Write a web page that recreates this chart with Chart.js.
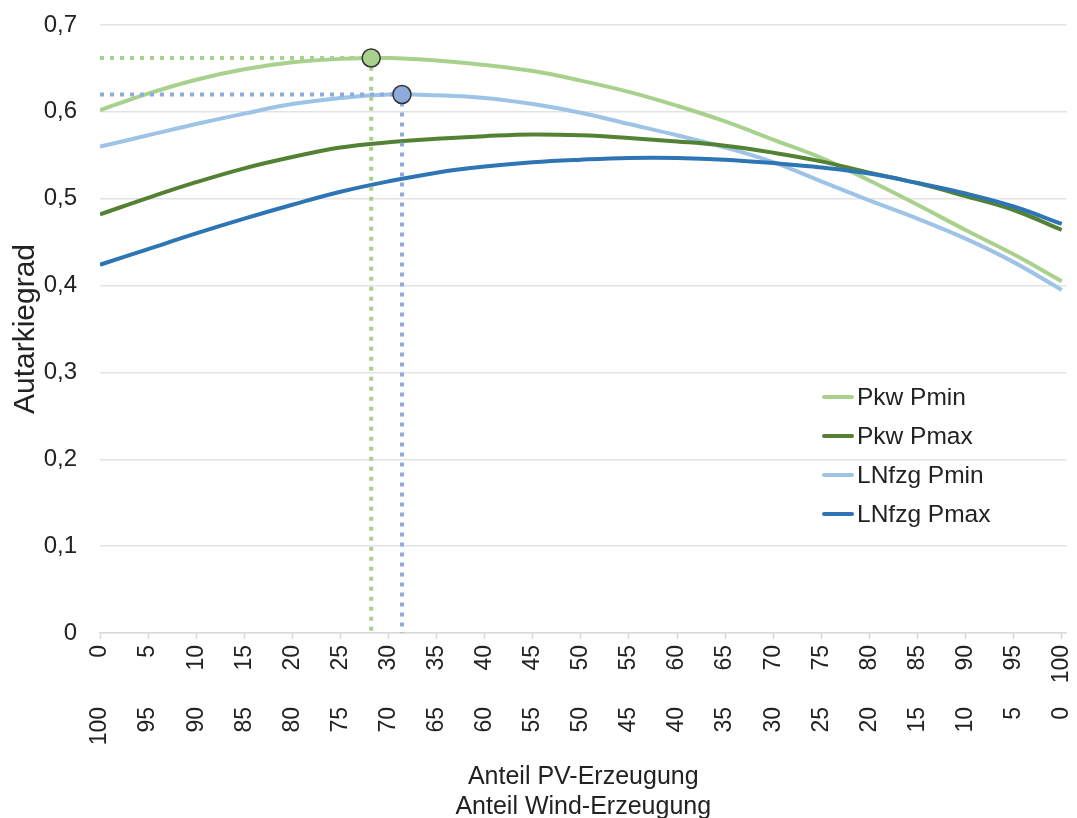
<!DOCTYPE html>
<html lang="de">
<head>
<meta charset="utf-8">
<title>Autarkiegrad</title>
<script src="https://cdn.jsdelivr.net/npm/chart.js@4.4.1/dist/chart.umd.min.js"></script>
<style>
  html, body { margin: 0; padding: 0; background: #fff; }
  #wrap { position: relative; width: 1077px; height: 818px; }
  #legend {
    position: absolute; left: 822px; top: 377px;
    font-family: 'Liberation Sans', Arial, sans-serif; font-size: 24.5px; color: #222;
  }
  .legend-row { display: flex; align-items: center; height: 39px; }
  .legend-line { width: 32px; height: 4px; margin-right: 3px; border-radius: 2px; }
</style>
</head>
<body>
<div id="wrap">
  <canvas id="chart" width="1077" height="818"></canvas>
  <div id="legend"></div>
</div>
<script>
// x positions (Anteil PV-Erzeugung in %)
const PV_SHARE   = [0, 5, 10, 15, 20, 25, 30, 35, 40, 45, 50, 55, 60, 65, 70, 75, 80, 85, 90, 95, 100];
const PV_TICKS   = ['0','5','10','15','20','25','30','35','40','45','50','55','60','65','70','75','80','85','90','95','100'];
const WIND_TICKS = ['100','95','90','85','80','75','70','65','60','55','50','45','40','35','30','25','20','15','10','5','0'];
const Y_VALUES   = [0, 0.1, 0.2, 0.3, 0.4, 0.5, 0.6, 0.7];
const Y_TICKS    = ['0','0,1','0,2','0,3','0,4','0,5','0,6','0,7'];

const PKW_PMIN   = [0.602, 0.621, 0.637, 0.649, 0.657, 0.661, 0.662, 0.659, 0.654, 0.647, 0.636, 0.623, 0.607, 0.589, 0.568, 0.547, 0.521, 0.493, 0.464, 0.436, 0.405];
const PKW_PMAX   = [0.482, 0.501, 0.519, 0.535, 0.548, 0.559, 0.565, 0.569, 0.572, 0.574, 0.573, 0.570, 0.566, 0.561, 0.553, 0.543, 0.530, 0.518, 0.503, 0.487, 0.464];
const LNFZG_PMIN = [0.560, 0.573, 0.586, 0.598, 0.609, 0.616, 0.620, 0.619, 0.616, 0.609, 0.599, 0.586, 0.573, 0.559, 0.542, 0.520, 0.498, 0.477, 0.454, 0.427, 0.395];
const LNFZG_PMAX = [0.424, 0.442, 0.460, 0.477, 0.493, 0.508, 0.520, 0.530, 0.537, 0.542, 0.545, 0.547, 0.547, 0.545, 0.541, 0.536, 0.529, 0.518, 0.506, 0.491, 0.471];

// optimum points: Pkw Pmin, LNfzg Pmin
const OPT_PV    = [28.2, 31.4];
const OPT_VALUE = [0.662, 0.620];

const SERIES = [
  { label: 'Pkw Pmin',   data: PKW_PMIN,   color: '#a9d18e', order: 5 },
  { label: 'Pkw Pmax',   data: PKW_PMAX,   color: '#548235', order: 3 },
  { label: 'LNfzg Pmin', data: LNFZG_PMIN, color: '#9dc3e6', order: 4 },
  { label: 'LNfzg Pmax', data: LNFZG_PMAX, color: '#2e75b6', order: 2 }
];
const OPT_COLORS = ['#a9d18e', '#8faadc'];

const FONT = "'Liberation Sans', Arial, sans-serif";
const TEXT = '#222';

function curve(s) {
  return {
    type: 'line',
    label: s.label,
    data: PV_SHARE.map((x, i) => ({ x, y: s.data[i] })),
    borderColor: s.color,
    borderWidth: 4,
    pointRadius: 0,
    tension: 0.4,
    fill: false,
    order: s.order
  };
}

function guide(i) {
  return {
    type: 'line',
    data: [
      { x: 0, y: OPT_VALUE[i] },
      { x: OPT_PV[i], y: OPT_VALUE[i] },
      { x: OPT_PV[i], y: 0 }
    ],
    borderColor: OPT_COLORS[i],
    borderWidth: 4,
    borderDash: [4, 6],
    pointRadius: 0,
    tension: 0,
    fill: false,
    order: 1
  };
}

function marker(i) {
  return {
    type: 'line',
    data: [{ x: OPT_PV[i], y: OPT_VALUE[i] }],
    showLine: false,
    pointRadius: 9,
    pointBackgroundColor: OPT_COLORS[i],
    pointBorderColor: '#333',
    pointBorderWidth: 1.5,
    order: 0
  };
}

const datasets = SERIES.map(curve)
  .concat([guide(0), guide(1), marker(0), marker(1)]);

// fixed axis boxes so the plot area sits where the original has it
const fitX  = axis => { axis.paddingLeft = 0; axis.paddingRight = 9; axis.height = 50; };
const fitX2 = axis => { axis.paddingLeft = 0; axis.paddingRight = 9; axis.height = 135; };
const fitY  = axis => { axis.width = 100; axis.paddingTop = 0; axis.paddingBottom = 0; };

new Chart(document.getElementById('chart'), {
  type: 'line',
  data: { datasets },
  options: {
    responsive: false,
    animation: false,
    layout: { padding: { top: 25, right: 9, left: 0, bottom: 0 } },
    plugins: { legend: { display: false }, tooltip: { enabled: false } },
    scales: {
      x: {
        type: 'linear',
        position: 'bottom',
        min: 0,
        max: 100.5,
        afterBuildTicks: axis => { axis.ticks = PV_SHARE.map(v => ({ value: v })); },
        afterFit: fitX,
        grid: { drawOnChartArea: false, drawTicks: true, tickLength: 6, tickColor: '#d9d9d9', tickWidth: 1.5 },
        border: { color: '#d9d9d9', width: 1.5 },
        ticks: {
          minRotation: 90, maxRotation: 90, padding: 6, autoSkip: false,
          color: TEXT, font: { family: FONT, size: 23 },
          callback: (v, i) => PV_TICKS[i]
        }
      },
      x2: {
        type: 'linear',
        position: 'bottom',
        min: 0,
        max: 100.5,
        afterBuildTicks: axis => { axis.ticks = PV_SHARE.map(v => ({ value: v })); },
        afterFit: fitX2,
        grid: { drawOnChartArea: false, drawTicks: false },
        border: { display: false },
        ticks: {
          minRotation: 90, maxRotation: 90, padding: 24, autoSkip: false,
          color: TEXT, font: { family: FONT, size: 23 },
          callback: (v, i) => WIND_TICKS[i]
        },
        title: {
          display: true,
          text: ['Anteil PV-Erzeugung', 'Anteil Wind-Erzeugung'],
          color: TEXT,
          font: { family: FONT, size: 25, lineHeight: 1.2 },
          padding: { top: 14, bottom: -4 }
        }
      },
      y: {
        min: 0,
        max: 0.7,
        afterBuildTicks: axis => { axis.ticks = Y_VALUES.map(v => ({ value: v })); },
        afterFit: fitY,
        grid: { color: '#e3e3e3', lineWidth: 1.5, drawTicks: false },
        border: { display: false },
        ticks: {
          padding: 23,
          color: TEXT, font: { family: FONT, size: 24 },
          callback: (v, i) => Y_TICKS[i]
        },
        title: {
          display: true,
          text: 'Autarkiegrad',
          color: TEXT,
          font: { family: FONT, size: 30, lineHeight: 1.2 },
          padding: { top: 8, bottom: 2 }
        }
      }
    }
  }
});

document.getElementById('legend').innerHTML = SERIES.map(s => `
  <div class="legend-row">
    <span class="legend-line" style="background:${s.color}"></span>
    <span>${s.label}</span>
  </div>`).join('');
</script>
</body>
</html>
